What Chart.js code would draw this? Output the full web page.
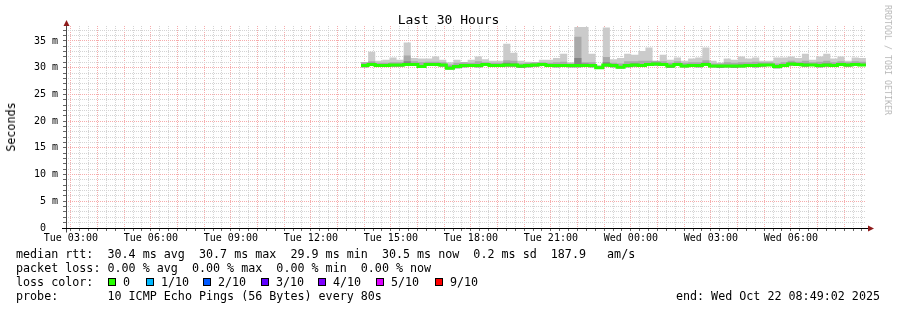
<!DOCTYPE html>
<html>
<head>
<meta charset="utf-8">
<title>Last 30 Hours</title>
<script src="https://cdn.jsdelivr.net/npm/chart.js@4.4.1/dist/chart.umd.min.js"></script>
<style>
  body { margin: 0; background: #fff; }
  #wrap { position: relative; width: 897px; height: 310px; overflow: hidden; font-family: "DejaVu Sans Mono", monospace; color: #000; }
  #grafico { position: absolute; left: 0; top: 0; }
  .txt { position: absolute; white-space: pre; font-size: 11.7px; line-height: 14px; }
  .box { position: absolute; width: 8px; height: 8px; box-sizing: border-box; border: 1px solid #000; }
  #titulo { position: absolute; left: 0; width: 897px; top: 11px; text-align: center; font-size: 13px; line-height: 17px; }
  #eixoY { position: absolute; left: 11px; top: 127px; transform: translate(-50%, -50%) rotate(-90deg); font-size: 11.7px; white-space: pre; }
  #credito { position: absolute; left: 888px; top: 60px; transform: translate(-50%, -50%) rotate(90deg); font-size: 8.3px; color: #b8b8b8; white-space: pre; }
</style>
</head>
<body>
<div id="wrap">
  <canvas id="grafico" width="897" height="310"></canvas>
  <div id="titulo">Last 30 Hours</div>
  <div id="eixoY">Seconds</div>
  <div id="credito">RRDTOOL / TOBI OETIKER</div>
  <div id="legenda"></div>
</div>
<script>
// hours counted from Tue 00:00
const chartStart = 2 + 49 / 60 + 2 / 3600;
const chartEnd = chartStart + 30;
const dataStart = 13.88;
const stepHours = 16 / 60;

const xLabelHours = [3, 6, 9, 12, 15, 18, 21, 24, 27, 30];
const xLabelTexts = ["Tue 03:00", "Tue 06:00", "Tue 09:00", "Tue 12:00", "Tue 15:00",
  "Tue 18:00", "Tue 21:00", "Wed 00:00", "Wed 03:00", "Wed 06:00"];
const yLabelValues = [0, 5, 10, 15, 20, 25, 30, 35];
const yLabelTexts = ["0  ", "5 m", "10 m", "15 m", "20 m", "25 m", "30 m", "35 m"];

// rtt in ms, one value per 16 min row
const medianRtt = [30.4, 30.6, 30.4, 30.4, 30.5, 30.5, 30.6, 30.6, 30.2, 30.6,
  30.6, 30.5, 29.9, 30.2, 30.4, 30.4, 30.4, 30.6, 30.4, 30.4,
  30.5, 30.5, 30.3, 30.4, 30.5, 30.6, 30.4, 30.4, 30.4, 30.4,
  30.4, 30.4, 30.4, 30.0, 30.5, 30.4, 30.1, 30.4, 30.5, 30.4,
  30.6, 30.7, 30.6, 30.3, 30.6, 30.3, 30.4, 30.4, 30.6, 30.3,
  30.3, 30.3, 30.3, 30.3, 30.4, 30.4, 30.5, 30.5, 30.2, 30.4,
  30.7, 30.6, 30.5, 30.5, 30.4, 30.5, 30.4, 30.6, 30.5, 30.6, 30.5];
const minRtt = [30.1, 30.3, 30.2, 30.2, 30.2, 30.2, 30.3, 30.3, 30.0, 30.3,
  30.3, 30.2, 29.7, 29.9, 30.1, 30.2, 30.1, 30.3, 30.2, 30.2,
  30.2, 30.2, 30.0, 30.1, 30.2, 30.3, 30.2, 30.1, 30.2, 30.1,
  30.1, 30.2, 30.1, 29.8, 30.2, 30.1, 29.9, 30.1, 30.2, 30.2,
  30.3, 30.4, 30.3, 30.0, 30.3, 30.1, 30.2, 30.1, 30.3, 30.1,
  30.0, 30.1, 30.0, 30.1, 30.2, 30.1, 30.2, 30.3, 29.9, 30.2,
  30.4, 30.3, 30.2, 30.3, 30.1, 30.2, 30.2, 30.3, 30.2, 30.3, 30.3];
const darkRtt = [30.6, 30.9, 30.6, 30.6, 30.7, 30.7, 31.2, 30.8, 30.4, 30.8,
  30.8, 30.7, 30.2, 30.4, 30.6, 30.6, 30.7, 30.8, 30.6, 30.6,
  30.9, 30.8, 30.5, 30.6, 30.7, 30.8, 30.6, 30.6, 30.7, 30.6,
  31.8, 30.8, 30.6, 30.2, 31.0, 30.6, 30.3, 30.7, 30.8, 30.7,
  30.8, 30.9, 30.8, 30.5, 30.8, 30.5, 30.6, 30.6, 30.9, 30.5,
  30.5, 30.5, 30.5, 30.6, 30.6, 30.6, 30.7, 30.7, 30.4, 30.6,
  30.9, 30.8, 30.8, 30.7, 30.7, 30.8, 30.6, 30.8, 30.7, 30.8, 30.7];
const upperRtt = [31.0, 31.2, 30.9, 30.9, 31.0, 31.0, 32.3, 31.2, 31.0, 31.1,
  31.1, 31.0, 30.6, 30.9, 31.0, 30.9, 31.2, 31.0, 30.9, 30.9,
  31.4, 31.3, 30.8, 30.9, 31.0, 31.0, 30.9, 31.0, 31.1, 30.8,
  35.8, 31.0, 31.0, 30.3, 32.0, 30.9, 30.8, 31.2, 31.2, 31.3,
  31.3, 31.3, 31.2, 30.9, 31.2, 30.9, 31.0, 31.0, 31.4, 30.8,
  30.8, 31.0, 30.9, 31.0, 31.0, 31.1, 31.0, 31.0, 30.8, 31.0,
  31.3, 31.1, 31.3, 31.0, 31.1, 31.3, 31.0, 31.2, 31.0, 31.2, 31.1];
const maxRtt = [31.0, 33.0, 31.3, 31.5, 31.9, 31.5, 34.7, 31.8, 31.7, 31.7,
  32.1, 31.5, 31.0, 31.5, 31.0, 31.5, 32.1, 31.6, 31.3, 31.3,
  34.5, 32.8, 31.3, 31.1, 31.0, 31.5, 31.5, 31.8, 32.6, 31.0,
  37.6, 37.6, 32.6, 30.5, 37.5, 31.6, 31.8, 32.6, 32.4, 33.1,
  33.8, 31.1, 32.4, 31.5, 31.9, 31.3, 31.7, 31.9, 33.8, 31.3,
  30.9, 31.7, 31.5, 32.1, 31.7, 31.9, 31.3, 31.3, 31.9, 31.9,
  32.1, 31.8, 32.6, 31.5, 32.1, 32.6, 31.7, 32.1, 31.3, 31.9, 31.8];

const lossLabels = ["0", "1/10", "2/10", "3/10", "4/10", "5/10", "9/10"];
const lossColors = ["#26ff00", "#00b8ff", "#0059ff", "#5e00ff", "#7e00ff", "#dd00ff", "#ff0000"];

const legendLines = [
  "median rtt:  30.4 ms avg  30.7 ms max  29.9 ms min  30.5 ms now  0.2 ms sd  187.9   am/s",
  "packet loss: 0.00 % avg  0.00 % max  0.00 % min  0.00 % now",
  "loss color:",
  "probe:       10 ICMP Echo Pings (56 Bytes) every 80s",
];

const fontMono = "'DejaVu Sans Mono', monospace";

// row start times
const times = medianRtt.map((_, i) => dataStart + i * stepHours);

function toPoints(values) {
  const pts = values.map((v, i) => ({ x: times[i], y: v }));
  // close the last row
  pts.push({ x: times[times.length - 1] + stepHours, y: values[values.length - 1] });
  return pts;
}

function stepSet(label, values, extra) {
  return Object.assign(
    {
      label: label,
      data: toPoints(values),
      stepped: "before",
      pointRadius: 0,
      borderWidth: 0,
      borderColor: "rgba(0,0,0,0)",
      fill: false,
      tension: 0,
    },
    extra
  );
}

const xTicks = [];
for (let k = Math.ceil(chartStart * 3); k <= Math.floor(chartEnd * 3); k++) xTicks.push(k / 3);
const yTicks = [];
for (let v = 0; v <= 37; v++) yTicks.push(v);

function xLabel(value) {
  const idx = xLabelHours.findIndex((h) => Math.abs(h - value) < 0.01);
  return idx >= 0 ? xLabelTexts[idx] : "";
}

function yLabel(value) {
  const idx = yLabelValues.indexOf(value);
  return idx >= 0 ? yLabelTexts[idx] : "";
}

const gridMinor = "#d4d4d4";
const gridMajor = "#f6acac";

const rrdAxes = {
  id: "rrdAxes",
  afterDatasetsDraw(chart) {
    const { ctx, chartArea: a } = chart;
    const x0 = Math.round(a.left) + 0.5;
    const y0 = Math.round(a.bottom) + 0.5;
    ctx.save();
    ctx.lineWidth = 1;
    ctx.strokeStyle = "#4a4a4a";
    ctx.beginPath();
    ctx.moveTo(x0, y0 + 4);
    ctx.lineTo(x0, a.top - 2);
    ctx.stroke();
    ctx.strokeStyle = "#000";
    ctx.beginPath();
    ctx.moveTo(a.left - 4, y0);
    ctx.lineTo(a.right + 3, y0);
    ctx.stroke();
    // arrows
    ctx.fillStyle = "#8e1b1b";
    ctx.beginPath();
    ctx.moveTo(x0 - 3, a.top);
    ctx.lineTo(x0 + 3, a.top);
    ctx.lineTo(x0, a.top - 6);
    ctx.closePath();
    ctx.fill();
    ctx.beginPath();
    ctx.moveTo(a.right + 2, y0 - 3);
    ctx.lineTo(a.right + 2, y0 + 3);
    ctx.lineTo(a.right + 8, y0);
    ctx.closePath();
    ctx.fill();
    ctx.restore();
  },
};

new Chart(document.getElementById("grafico"), {
  type: "line",
  data: {
    datasets: [
      stepSet("min", minRtt, { order: 9 }),
      stepSet("max", maxRtt, { order: 4, fill: { target: 0 }, backgroundColor: "#cbcbcb" }),
      stepSet("upper", upperRtt, { order: 3, fill: { target: 0 }, backgroundColor: "#a9a9a9" }),
      stepSet("dark", darkRtt, { order: 2, fill: { target: 0 }, backgroundColor: "#858585" }),
      stepSet("median", medianRtt, { order: 1, borderWidth: 3, borderColor: "#26ff00", borderCapStyle: "butt", borderJoinStyle: "miter" }),
    ],
  },
  options: {
    responsive: false,
    animation: false,
    events: [],
    devicePixelRatio: 1,
    layout: { padding: { top: 26, right: 31, left: 0, bottom: 0 } },
    plugins: {
      legend: { display: false },
      tooltip: { enabled: false },
      filler: { propagate: false },
    },
    scales: {
      x: {
        type: "linear",
        bounds: "data",
        min: chartStart,
        max: chartEnd,
        afterBuildTicks: (s) => {
          s.ticks = xTicks.map((v) => ({ value: v }));
        },
        afterFit: (s) => {
          s.height = 82;
        },
        ticks: {
          callback: xLabel,
          autoSkip: false,
          maxRotation: 0,
          padding: 1,
          color: "#000",
          font: { family: fontMono, size: 10 },
        },
        grid: {
          color: (c) => (Math.round(c.tick.value * 3) % 3 === 0 ? gridMajor : gridMinor),
          tickColor: "#666",
          tickLength: 3,
        },
        border: { display: false, dash: [1, 1] },
      },
      y: {
        type: "linear",
        bounds: "data",
        min: 0,
        max: 37.8,
        afterBuildTicks: (s) => {
          s.ticks = yTicks.map((v) => ({ value: v }));
        },
        afterFit: (s) => {
          s.width = 66;
        },
        ticks: {
          callback: yLabel,
          autoSkip: false,
          padding: 5,
          color: "#000",
          font: { family: fontMono, size: 10 },
        },
        grid: {
          color: (c) => (c.tick.value === 0 ? "rgba(0,0,0,0)" : c.tick.value % 5 === 0 ? gridMajor : gridMinor),
          tickColor: "#666",
          tickLength: 3,
        },
        border: { display: false, dash: [1, 1] },
      },
    },
  },
  plugins: [rrdAxes],
});

// legend text under the graph
const legenda = document.getElementById("legenda");
const lineTops = [247, 261, 275, 289];
legendLines.forEach((t, i) => {
  const d = document.createElement("div");
  d.className = "txt";
  d.style.left = "16px";
  d.style.top = lineTops[i] + "px";
  d.textContent = t;
  legenda.appendChild(d);
});

const boxLefts = [108, 146, 203, 261, 318, 376, 435];
lossLabels.forEach((lbl, i) => {
  const b = document.createElement("div");
  b.className = "box";
  b.style.left = boxLefts[i] + "px";
  b.style.top = "278px";
  b.style.background = lossColors[i];
  legenda.appendChild(b);
  const t = document.createElement("div");
  t.className = "txt";
  t.style.left = boxLefts[i] + 15 + "px";
  t.style.top = "275px";
  t.textContent = lbl;
  legenda.appendChild(t);
});

const fim = document.createElement("div");
fim.className = "txt";
fim.style.right = "17px";
fim.style.top = "289px";
fim.textContent = "end: Wed Oct 22 08:49:02 2025";
legenda.appendChild(fim);
</script>
</body>
</html>
